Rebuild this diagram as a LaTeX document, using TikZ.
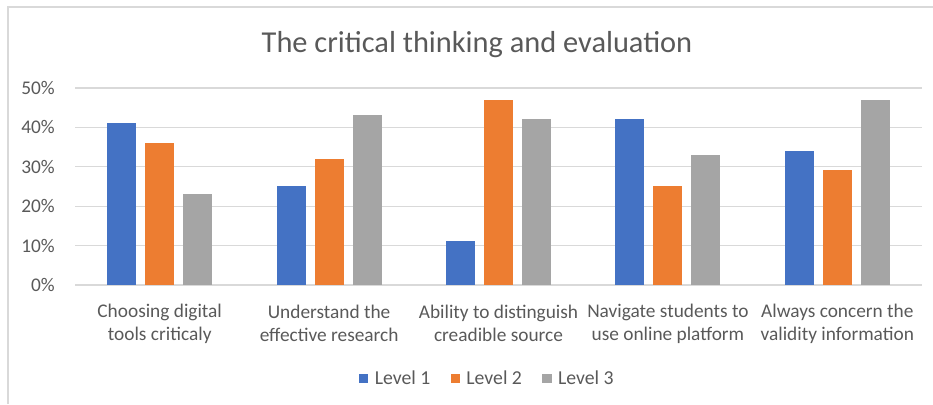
\documentclass[tikz,border=0pt]{standalone}
\usepackage{xcolor}
\usepackage{fontspec}
\setmainfont{Carlito}
\usepackage{tikz}
\usetikzlibrary{positioning}

\definecolor{lvlone}{HTML}{4472C4}
\definecolor{lvltwo}{HTML}{ED7D31}
\definecolor{lvlthree}{HTML}{A5A5A5}
\definecolor{axistext}{HTML}{595959}
\definecolor{gridgray}{HTML}{D9D9D9}

\begin{document}
\begin{tikzpicture}[x=0.75pt, y=-0.75pt]
				\tikzstyle{frame} = [draw=gridgray, line width=1pt]
				\tikzstyle{grid} = [draw=gridgray, line width=1pt]
				\tikzstyle{common} = [rectangle, inner sep=0, anchor=south, minimum width=21.75pt]
				\tikzstyle{bar1} = [common, fill=lvlone]
				\tikzstyle{bar2} = [common, fill=lvltwo]
				\tikzstyle{bar3} = [common, fill=lvlthree]
				\tikzstyle{ylab} = [anchor=east, inner sep=0, text=axistext, font=\fontsize{14.5}{17}\selectfont]
				\tikzstyle{catlab} = [align=center, inner sep=0, text=axistext, font=\fontsize{14.5}{17.25}\selectfont]
				\tikzstyle{key} = [rectangle, inner sep=0, minimum size=6.75pt, anchor=west]
				\tikzstyle{keylab} = [anchor=west, inner sep=0, text=axistext, font=\fontsize{14.8}{17}\selectfont]
				\useasboundingbox (0,0) rectangle (933,404);
				% chart area border (left and top only)
				\draw[frame] (8,404) -- (8,7) -- (933,7);
				\node[text=axistext, font=\fontsize{22.8}{26}\selectfont] (title) at (477,45) {The critical thinking and evaluation};

				% value axis
				\coordinate (g0l) at (75,285);    \coordinate (g0r) at (922,285);
				\coordinate (g10l) at (75,245.6); \coordinate (g10r) at (922,245.6);
				\coordinate (g20l) at (75,206.2); \coordinate (g20r) at (922,206.2);
				\coordinate (g30l) at (75,166.8); \coordinate (g30r) at (922,166.8);
				\coordinate (g40l) at (75,127.4); \coordinate (g40r) at (922,127.4);
				\coordinate (g50l) at (75,88);    \coordinate (g50r) at (922,88);
				\draw[grid] (g0l) -- (g0r);
				\draw[grid] (g10l) -- (g10r);
				\draw[grid] (g20l) -- (g20r);
				\draw[grid] (g30l) -- (g30r);
				\draw[grid] (g40l) -- (g40r);
				\draw[grid] (g50l) -- (g50r);
				\node[ylab, left=15pt of g0l] (y0) {0\%};
				\node[ylab, left=15pt of g10l] (y10) {10\%};
				\node[ylab, left=15pt of g20l] (y20) {20\%};
				\node[ylab, left=15pt of g30l] (y30) {30\%};
				\node[ylab, left=15pt of g40l] (y40) {40\%};
				\node[ylab, left=15pt of g50l] (y50) {50\%};

				% bars
				\node[bar1, minimum height={41*2.955pt}] (a1) at (121.7,285) {};
				\node[bar2, minimum height={36*2.955pt}] (a2) at (159.7,285) {};
				\node[bar3, minimum height={23*2.955pt}] (a3) at (197.7,285) {};
				\node[bar1, minimum height={25*2.955pt}] (b1) at (291.1,285) {};
				\node[bar2, minimum height={32*2.955pt}] (b2) at (329.1,285) {};
				\node[bar3, minimum height={43*2.955pt}] (b3) at (367.1,285) {};
				\node[bar1, minimum height={11*2.955pt}] (c1) at (460.5,285) {};
				\node[bar2, minimum height={47*2.955pt}] (c2) at (498.5,285) {};
				\node[bar3, minimum height={42*2.955pt}] (c3) at (536.5,285) {};
				\node[bar1, minimum height={42*2.955pt}] (d1) at (629.9,285) {};
				\node[bar2, minimum height={25*2.955pt}] (d2) at (667.9,285) {};
				\node[bar3, minimum height={33*2.955pt}] (d3) at (705.9,285) {};
				\node[bar1, minimum height={34*2.955pt}] (e1) at (799.3,285) {};
				\node[bar2, minimum height={29*2.955pt}] (e2) at (837.3,285) {};
				\node[bar3, minimum height={47*2.955pt}] (e3) at (875.3,285) {};

				% category labels
				\node[catlab] (catA) at (159.7,323.5) {Choosing digital\\tools criticaly};
				\node[catlab] (catB) at (329.1,323.5) {Understand the\\effective research};
				\node[catlab] (catC) at (498.5,323.5) {Ability to distinguish\\creadible source};
				\node[catlab] (catD) at (667.9,323.5) {Navigate students to\\use online platform};
				\node[catlab] (catE) at (837.3,323.5) {Always concern the\\validity information};

				% legend
				\node[key, fill=lvlone] (k1) at (359,378) {};
				\node[keylab, right=4.5pt of k1] (l1) {Level 1};
				\node[key, fill=lvltwo, right=15pt of l1] (k2) {};
				\node[keylab, right=4.5pt of k2] (l2) {Level 2};
				\node[key, fill=lvlthree, right=15pt of l2] (k3) {};
				\node[keylab, right=4.5pt of k3] (l3) {Level 3};
			\end{tikzpicture}
\end{document}
